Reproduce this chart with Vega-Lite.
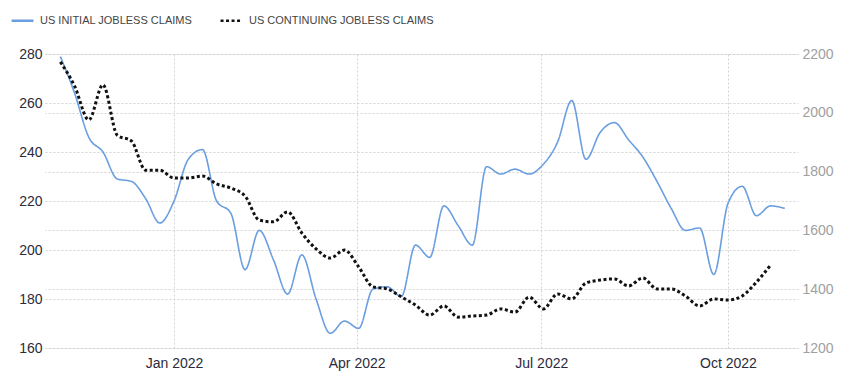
{
  "$schema": "https://vega.github.io/schema/vega-lite/v6.json",
  "width": 753,
  "height": 294,
  "autosize": {"type": "none"},
  "padding": {"left": 45, "top": 54, "right": 44, "bottom": 34},
  "background": "white",
  "config": {
    "view": {"stroke": null},
    "font": "Liberation Sans",
    "axis": {"labelFont": "Liberation Sans", "labelFontSize": 14, "ticks": false, "domain": false, "gridColor": "#d2d2d2", "gridDash": [2, 2], "gridWidth": 1, "title": null}
  },
  "data": {"values": [
    {"date": "2021-11-06", "series": "US INITIAL JOBLESS CLAIMS", "value": 279},
    {"date": "2021-11-13", "series": "US INITIAL JOBLESS CLAIMS", "value": 264},
    {"date": "2021-11-20", "series": "US INITIAL JOBLESS CLAIMS", "value": 246},
    {"date": "2021-11-27", "series": "US INITIAL JOBLESS CLAIMS", "value": 240},
    {"date": "2021-12-04", "series": "US INITIAL JOBLESS CLAIMS", "value": 229},
    {"date": "2021-12-11", "series": "US INITIAL JOBLESS CLAIMS", "value": 228},
    {"date": "2021-12-18", "series": "US INITIAL JOBLESS CLAIMS", "value": 221},
    {"date": "2021-12-25", "series": "US INITIAL JOBLESS CLAIMS", "value": 211},
    {"date": "2022-01-01", "series": "US INITIAL JOBLESS CLAIMS", "value": 220},
    {"date": "2022-01-08", "series": "US INITIAL JOBLESS CLAIMS", "value": 237},
    {"date": "2022-01-15", "series": "US INITIAL JOBLESS CLAIMS", "value": 241},
    {"date": "2022-01-22", "series": "US INITIAL JOBLESS CLAIMS", "value": 220},
    {"date": "2022-01-29", "series": "US INITIAL JOBLESS CLAIMS", "value": 215},
    {"date": "2022-02-05", "series": "US INITIAL JOBLESS CLAIMS", "value": 192},
    {"date": "2022-02-12", "series": "US INITIAL JOBLESS CLAIMS", "value": 208},
    {"date": "2022-02-19", "series": "US INITIAL JOBLESS CLAIMS", "value": 196},
    {"date": "2022-02-26", "series": "US INITIAL JOBLESS CLAIMS", "value": 182},
    {"date": "2022-03-05", "series": "US INITIAL JOBLESS CLAIMS", "value": 198},
    {"date": "2022-03-12", "series": "US INITIAL JOBLESS CLAIMS", "value": 180},
    {"date": "2022-03-19", "series": "US INITIAL JOBLESS CLAIMS", "value": 166},
    {"date": "2022-03-26", "series": "US INITIAL JOBLESS CLAIMS", "value": 171},
    {"date": "2022-04-02", "series": "US INITIAL JOBLESS CLAIMS", "value": 168},
    {"date": "2022-04-09", "series": "US INITIAL JOBLESS CLAIMS", "value": 184},
    {"date": "2022-04-16", "series": "US INITIAL JOBLESS CLAIMS", "value": 185},
    {"date": "2022-04-23", "series": "US INITIAL JOBLESS CLAIMS", "value": 181},
    {"date": "2022-04-30", "series": "US INITIAL JOBLESS CLAIMS", "value": 202},
    {"date": "2022-05-07", "series": "US INITIAL JOBLESS CLAIMS", "value": 197},
    {"date": "2022-05-14", "series": "US INITIAL JOBLESS CLAIMS", "value": 218},
    {"date": "2022-05-21", "series": "US INITIAL JOBLESS CLAIMS", "value": 210},
    {"date": "2022-05-28", "series": "US INITIAL JOBLESS CLAIMS", "value": 202},
    {"date": "2022-06-04", "series": "US INITIAL JOBLESS CLAIMS", "value": 234},
    {"date": "2022-06-11", "series": "US INITIAL JOBLESS CLAIMS", "value": 231},
    {"date": "2022-06-18", "series": "US INITIAL JOBLESS CLAIMS", "value": 233},
    {"date": "2022-06-25", "series": "US INITIAL JOBLESS CLAIMS", "value": 231},
    {"date": "2022-07-02", "series": "US INITIAL JOBLESS CLAIMS", "value": 235},
    {"date": "2022-07-09", "series": "US INITIAL JOBLESS CLAIMS", "value": 244},
    {"date": "2022-07-16", "series": "US INITIAL JOBLESS CLAIMS", "value": 261},
    {"date": "2022-07-23", "series": "US INITIAL JOBLESS CLAIMS", "value": 237},
    {"date": "2022-07-30", "series": "US INITIAL JOBLESS CLAIMS", "value": 248},
    {"date": "2022-08-06", "series": "US INITIAL JOBLESS CLAIMS", "value": 252},
    {"date": "2022-08-13", "series": "US INITIAL JOBLESS CLAIMS", "value": 245},
    {"date": "2022-08-20", "series": "US INITIAL JOBLESS CLAIMS", "value": 238},
    {"date": "2022-08-27", "series": "US INITIAL JOBLESS CLAIMS", "value": 228},
    {"date": "2022-09-03", "series": "US INITIAL JOBLESS CLAIMS", "value": 217},
    {"date": "2022-09-10", "series": "US INITIAL JOBLESS CLAIMS", "value": 208},
    {"date": "2022-09-17", "series": "US INITIAL JOBLESS CLAIMS", "value": 209},
    {"date": "2022-09-24", "series": "US INITIAL JOBLESS CLAIMS", "value": 190},
    {"date": "2022-10-01", "series": "US INITIAL JOBLESS CLAIMS", "value": 219},
    {"date": "2022-10-08", "series": "US INITIAL JOBLESS CLAIMS", "value": 226},
    {"date": "2022-10-15", "series": "US INITIAL JOBLESS CLAIMS", "value": 214},
    {"date": "2022-10-22", "series": "US INITIAL JOBLESS CLAIMS", "value": 218},
    {"date": "2022-10-29", "series": "US INITIAL JOBLESS CLAIMS", "value": 217},
    {"date": "2021-11-06", "series": "US CONTINUING JOBLESS CLAIMS", "value": 2173},
    {"date": "2021-11-13", "series": "US CONTINUING JOBLESS CLAIMS", "value": 2091},
    {"date": "2021-11-20", "series": "US CONTINUING JOBLESS CLAIMS", "value": 1976},
    {"date": "2021-11-27", "series": "US CONTINUING JOBLESS CLAIMS", "value": 2095},
    {"date": "2021-12-04", "series": "US CONTINUING JOBLESS CLAIMS", "value": 1924},
    {"date": "2021-12-11", "series": "US CONTINUING JOBLESS CLAIMS", "value": 1904},
    {"date": "2021-12-18", "series": "US CONTINUING JOBLESS CLAIMS", "value": 1805},
    {"date": "2021-12-25", "series": "US CONTINUING JOBLESS CLAIMS", "value": 1805},
    {"date": "2022-01-01", "series": "US CONTINUING JOBLESS CLAIMS", "value": 1778},
    {"date": "2022-01-08", "series": "US CONTINUING JOBLESS CLAIMS", "value": 1778},
    {"date": "2022-01-15", "series": "US CONTINUING JOBLESS CLAIMS", "value": 1785},
    {"date": "2022-01-22", "series": "US CONTINUING JOBLESS CLAIMS", "value": 1758},
    {"date": "2022-01-29", "series": "US CONTINUING JOBLESS CLAIMS", "value": 1744},
    {"date": "2022-02-05", "series": "US CONTINUING JOBLESS CLAIMS", "value": 1717},
    {"date": "2022-02-12", "series": "US CONTINUING JOBLESS CLAIMS", "value": 1635},
    {"date": "2022-02-19", "series": "US CONTINUING JOBLESS CLAIMS", "value": 1629},
    {"date": "2022-02-26", "series": "US CONTINUING JOBLESS CLAIMS", "value": 1663},
    {"date": "2022-03-05", "series": "US CONTINUING JOBLESS CLAIMS", "value": 1591},
    {"date": "2022-03-12", "series": "US CONTINUING JOBLESS CLAIMS", "value": 1537},
    {"date": "2022-03-19", "series": "US CONTINUING JOBLESS CLAIMS", "value": 1506},
    {"date": "2022-03-26", "series": "US CONTINUING JOBLESS CLAIMS", "value": 1533},
    {"date": "2022-04-02", "series": "US CONTINUING JOBLESS CLAIMS", "value": 1476},
    {"date": "2022-04-09", "series": "US CONTINUING JOBLESS CLAIMS", "value": 1408},
    {"date": "2022-04-16", "series": "US CONTINUING JOBLESS CLAIMS", "value": 1401},
    {"date": "2022-04-23", "series": "US CONTINUING JOBLESS CLAIMS", "value": 1374},
    {"date": "2022-04-30", "series": "US CONTINUING JOBLESS CLAIMS", "value": 1346},
    {"date": "2022-05-07", "series": "US CONTINUING JOBLESS CLAIMS", "value": 1312},
    {"date": "2022-05-14", "series": "US CONTINUING JOBLESS CLAIMS", "value": 1343},
    {"date": "2022-05-21", "series": "US CONTINUING JOBLESS CLAIMS", "value": 1305},
    {"date": "2022-05-28", "series": "US CONTINUING JOBLESS CLAIMS", "value": 1309},
    {"date": "2022-06-04", "series": "US CONTINUING JOBLESS CLAIMS", "value": 1312},
    {"date": "2022-06-11", "series": "US CONTINUING JOBLESS CLAIMS", "value": 1333},
    {"date": "2022-06-18", "series": "US CONTINUING JOBLESS CLAIMS", "value": 1322},
    {"date": "2022-06-25", "series": "US CONTINUING JOBLESS CLAIMS", "value": 1373},
    {"date": "2022-07-02", "series": "US CONTINUING JOBLESS CLAIMS", "value": 1333},
    {"date": "2022-07-09", "series": "US CONTINUING JOBLESS CLAIMS", "value": 1384},
    {"date": "2022-07-16", "series": "US CONTINUING JOBLESS CLAIMS", "value": 1367},
    {"date": "2022-07-23", "series": "US CONTINUING JOBLESS CLAIMS", "value": 1421},
    {"date": "2022-07-30", "series": "US CONTINUING JOBLESS CLAIMS", "value": 1431},
    {"date": "2022-08-06", "series": "US CONTINUING JOBLESS CLAIMS", "value": 1435},
    {"date": "2022-08-13", "series": "US CONTINUING JOBLESS CLAIMS", "value": 1411},
    {"date": "2022-08-20", "series": "US CONTINUING JOBLESS CLAIMS", "value": 1438},
    {"date": "2022-08-27", "series": "US CONTINUING JOBLESS CLAIMS", "value": 1401},
    {"date": "2022-09-03", "series": "US CONTINUING JOBLESS CLAIMS", "value": 1401},
    {"date": "2022-09-10", "series": "US CONTINUING JOBLESS CLAIMS", "value": 1377},
    {"date": "2022-09-17", "series": "US CONTINUING JOBLESS CLAIMS", "value": 1343},
    {"date": "2022-09-24", "series": "US CONTINUING JOBLESS CLAIMS", "value": 1367},
    {"date": "2022-10-01", "series": "US CONTINUING JOBLESS CLAIMS", "value": 1363},
    {"date": "2022-10-08", "series": "US CONTINUING JOBLESS CLAIMS", "value": 1377},
    {"date": "2022-10-15", "series": "US CONTINUING JOBLESS CLAIMS", "value": 1424},
    {"date": "2022-10-22", "series": "US CONTINUING JOBLESS CLAIMS", "value": 1482}
  ]},
  "encoding": {
    "x": {
      "field": "date", "type": "temporal",
      "scale": {"type": "utc", "domain": [{"year": 2021, "month": 10, "date": 29, "hours": 10, "utc": true}, {"year": 2022, "month": 11, "date": 4, "hours": 12, "utc": true}]},
      "axis": {
        "values": [{"year": 2022, "month": 1, "date": 1, "utc": true}, {"year": 2022, "month": 4, "date": 1, "utc": true}, {"year": 2022, "month": 7, "date": 1, "utc": true}, {"year": 2022, "month": 10, "date": 1, "utc": true}],
        "format": "%b %Y", "labelColor": "#2b2b3b", "labelPadding": 8, "grid": true, "labelFontSize": 14
      }
    },
    "color": {
      "field": "series", "type": "nominal",
      "scale": {"domain": ["US INITIAL JOBLESS CLAIMS", "US CONTINUING JOBLESS CLAIMS"], "range": ["#6a9ee0", "#111111"]},
      "legend": {"title": null, "orient": "none", "legendX": -35, "legendY": -46, "direction": "horizontal", "symbolType": "stroke", "symbolSize": 480, "symbolStrokeWidth": 2.5, "labelFontSize": 11, "labelColor": "#444", "labelFont": "Liberation Sans", "labelLimit": 0, "columnPadding": 22, "labelOffset": 5}
    },
    "strokeDash": {
      "field": "series", "type": "nominal",
      "scale": {"domain": ["US INITIAL JOBLESS CLAIMS", "US CONTINUING JOBLESS CLAIMS"], "range": [[1, 0], [3, 2.5]]},
      "legend": {"title": null, "orient": "none", "legendX": -35, "legendY": -46, "direction": "horizontal", "symbolType": "stroke", "symbolSize": 480, "symbolStrokeWidth": 2.5, "labelFontSize": 11, "labelColor": "#444", "labelFont": "Liberation Sans", "labelLimit": 0, "columnPadding": 22, "labelOffset": 5}
    }
  },
  "layer": [
    {
      "transform": [{"filter": "datum.series === 'US INITIAL JOBLESS CLAIMS'"}],
      "mark": {"type": "line", "interpolate": "monotone", "strokeWidth": 1.6},
      "encoding": {
        "y": {"field": "value", "type": "quantitative", "scale": {"domain": [160, 280], "nice": false, "zero": false},
          "axis": {"orient": "left", "values": [160, 180, 200, 220, 240, 260, 280], "format": "d", "labelColor": "#2b2b3b", "labelPadding": 3, "grid": true}}
      }
    },
    {
      "transform": [{"filter": "datum.series === 'US CONTINUING JOBLESS CLAIMS'"}],
      "mark": {"type": "line", "interpolate": "monotone", "strokeWidth": 3},
      "encoding": {
        "y": {"field": "value", "type": "quantitative", "scale": {"domain": [1200, 2200], "nice": false, "zero": false},
          "axis": {"orient": "right", "values": [1200, 1400, 1600, 1800, 2000, 2200], "format": "d", "labelColor": "#a0a0a0", "labelPadding": 4, "grid": true}}
      }
    }
  ],
  "resolve": {"scale": {"y": "independent"}}
}
